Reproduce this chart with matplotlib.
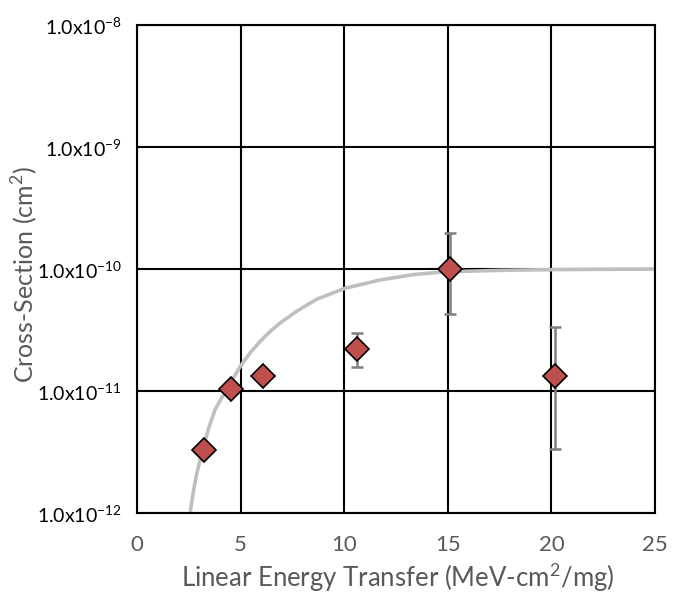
import numpy as np
import matplotlib
matplotlib.use("Agg")
import matplotlib.pyplot as plt

# données mesurées
let_vals = [3.23, 4.54, 6.08, 10.6, 15.1, 20.17]
section = [3.3e-12, 1.04e-11, 1.33e-11, 2.21e-11, 1.0e-10, 1.33e-11]
err_haut = [0, 0, 0, 3.0e-11, 1.97e-10, 3.35e-11]
err_bas = [0, 0, 0, 1.58e-11, 4.3e-11, 3.35e-12]

# courbe d'ajustement
courbe_x = [2.56, 2.72, 2.88, 3.17, 3.45, 3.76, 4.05, 4.33, 4.97, 5.45, 5.94,
            6.40, 6.90, 7.70, 8.67, 10.04, 11.73, 13.34, 14.62, 15.5, 17.5,
            20.0, 22.5, 25.0]
courbe_y = [1.0e-12, 1.5e-12, 2.1e-12, 3.3e-12, 4.9e-12, 7.0e-12, 8.6e-12,
            1.03e-11, 1.58e-11, 2.05e-11, 2.55e-11, 3.05e-11, 3.6e-11, 4.5e-11,
            5.65e-11, 6.95e-11, 8.13e-11, 9.0e-11, 9.4e-11, 9.55e-11, 9.75e-11,
            9.88e-11, 9.95e-11, 9.98e-11]

y_ticks = [1e-12, 1e-11, 1e-10, 1e-9, 1e-8]
y_labels = ["1.0x10$^{\\mathregular{-12}}$", "1.0x10$^{\\mathregular{-11}}$",
            "1.0x10$^{\\mathregular{-10}}$", "1.0x10$^{\\mathregular{-9}}$",
            "1.0x10$^{\\mathregular{-8}}$"]
x_ticks = [0, 5, 10, 15, 20, 25]

plt.rcParams['font.family'] = ['Lato', 'DejaVu Sans']

fig = plt.figure(figsize=(6.73, 6.02), dpi=100)
ax = fig.add_axes([0.2036, 0.1478, 0.7697, 0.8107])

ax.set_yscale('log')
ax.set_xlim(0, 25)
ax.set_ylim(1e-12, 1e-8)

ax.grid(True, which='major', color='black', linewidth=1.5, zorder=0)
ax.set_axisbelow(True)
for s in ax.spines.values():
    s.set_color('black')
    s.set_linewidth(1.5)

ax.plot(courbe_x, courbe_y, color='#BFBFBF', linewidth=2.6, zorder=2,
        solid_capstyle='butt', solid_joinstyle='round')

for i in range(len(let_vals)):
    if err_haut[i]:
        ax.errorbar([let_vals[i]], [section[i]],
                    yerr=[[section[i] - err_bas[i]], [err_haut[i] - section[i]]],
                    fmt='none', ecolor='#7F7F7F', elinewidth=1.8, capsize=4.5,
                    capthick=1.8, zorder=3)

ax.plot(let_vals, section, linestyle='none', marker='D', markersize=12,
        markerfacecolor='#C0504D', markeredgecolor='black', markeredgewidth=1.2,
        zorder=4)

ax.set_yticks(y_ticks)
ax.set_yticklabels(y_labels, fontsize=14, color='black')
ax.yaxis.set_minor_locator(matplotlib.ticker.NullLocator())
ax.set_xticks(x_ticks)
ax.set_xticklabels([str(v) for v in x_ticks], fontsize=16, color='#595959')
ax.tick_params(axis='both', length=0)
ax.tick_params(axis='y', pad=11)
ax.tick_params(axis='x', pad=16)

# titres des axes placés à la main
fig.text(0.591, 0.025, "Linear Energy Transfer (MeV-cm$^{\\mathregular{2}}$/mg)",
         fontsize=18.5, color='#595959', ha='center', va='baseline')
fig.text(0.036, 0.544, "Cross-Section (cm$^{\\mathregular{2}}$)", fontsize=18,
         color='#595959', ha='center', va='center', rotation=90)

fig.savefig("out.png", dpi=100)
